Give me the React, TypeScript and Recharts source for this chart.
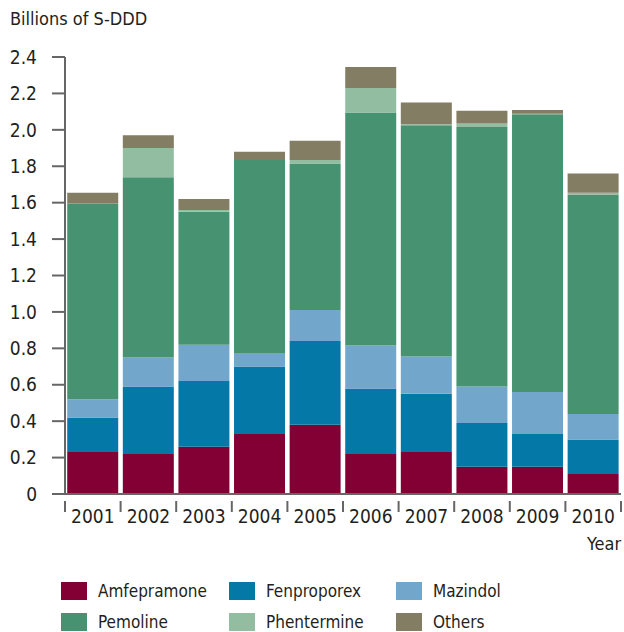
import React from 'react'
import { BarChart, Bar, XAxis, YAxis } from 'recharts'

const years = ['2001', '2002', '2003', '2004', '2005', '2006', '2007', '2008', '2009', '2010']
const amfepramone = [0.23, 0.22, 0.26, 0.33, 0.38, 0.22, 0.23, 0.15, 0.15, 0.11]
const fenproporex = [0.19, 0.37, 0.36, 0.37, 0.46, 0.36, 0.32, 0.24, 0.18, 0.19]
const mazindol = [0.1, 0.16, 0.2, 0.075, 0.17, 0.235, 0.205, 0.2, 0.23, 0.14]
const pemoline = [1.075, 0.99, 0.73, 1.06, 0.805, 1.28, 1.27, 1.425, 1.525, 1.205]
const phentermine = [0, 0.16, 0.01, 0, 0.02, 0.135, 0.005, 0.02, 0.004, 0.01]
const others = [0.06, 0.07, 0.06, 0.045, 0.105, 0.115, 0.12, 0.07, 0.02, 0.105]
const yTicks = [0, 0.2, 0.4, 0.6, 0.8, 1.0, 1.2, 1.4, 1.6, 1.8, 2.0, 2.2, 2.4]

const series = [
  { key: 'amfepramone', name: 'Amfepramone', color: '#830035', values: amfepramone },
  { key: 'fenproporex', name: 'Fenproporex', color: '#0479a8', values: fenproporex },
  { key: 'mazindol', name: 'Mazindol', color: '#72a7cb', values: mazindol },
  { key: 'pemoline', name: 'Pemoline', color: '#479270', values: pemoline },
  { key: 'phentermine', name: 'Phentermine', color: '#92bda0', values: phentermine },
  { key: 'others', name: 'Others', color: '#827d63', values: others },
]

const data = years.map((year, i) => {
  const row: Record<string, any> = { year }
  series.forEach((s) => { row[s.key] = s.values[i] })
  return row
})

const FONT = '"Liberation Sans Narrow", "DejaVu Sans Condensed", "Roboto", sans-serif'
const AXIS = '#666666'
const TEXT = '#231f20'

const YearTick = (props: any) => {
  const { x, y, payload, index } = props
  const half = payload.offset || 27.8
  return (
    <g>
      <line x1={x - half} x2={x - half} y1={y - 1} y2={y + 10} stroke={AXIS} strokeWidth={2} />
      {index === years.length - 1 && (
        <line x1={x + half} x2={x + half} y1={y - 1} y2={y + 10} stroke={AXIS} strokeWidth={2} />
      )}
      <text x={x} y={y + 21} textAnchor="middle" fill={TEXT} fontSize={19} fontFamily={FONT}>
        {payload.value}
      </text>
    </g>
  )
}

const App = () => (
  <div style={{ position: 'absolute', left: 0, top: 0, width: 624, height: 632, background: '#fff', fontFamily: FONT, color: TEXT }}>
    <div style={{ position: 'absolute', left: 10, top: 8, fontSize: 18 }}>Billions of S-DDD</div>
    <BarChart width={624} height={632} data={data} barCategoryGap="4%" margin={{ top: 57, right: 3, left: 0, bottom: 108 }}>
      <XAxis
        dataKey="year"
        height={30}
        axisLine={{ stroke: AXIS, strokeWidth: 2 }}
        tickLine={false}
        tick={<YearTick />}
        interval={0}
      />
      <YAxis
        width={65}
        domain={[0, 2.4]}
        ticks={yTicks}
        interval={0}
        axisLine={{ stroke: AXIS, strokeWidth: 2 }}
        tickLine={{ stroke: AXIS, strokeWidth: 2 }}
        tickSize={13}
        tickMargin={15}
        tickFormatter={(v: number) => (v === 0 ? '0' : v.toFixed(1))}
        tick={{ fill: TEXT, fontSize: 19, fontFamily: FONT }}
      />
      {series.map((s) => (
        <Bar key={s.key} dataKey={s.key} name={s.name} stackId="a" fill={s.color} isAnimationActive={false} />
      ))}
    </BarChart>
    <div style={{ position: 'absolute', left: 587, top: 533, fontSize: 18 }}>Year</div>
    {series.map((s, i) => {
      const col = i % 3
      const row = Math.floor(i / 3)
      const left = [61, 229, 396][col]
      const top = 581 + row * 31
      return (
        <div key={s.key} style={{ position: 'absolute', left, top, display: 'flex', alignItems: 'center', fontSize: 17 }}>
          <div style={{ width: 26, height: 18, background: s.color, marginRight: 11 }} />
          <span>{s.name}</span>
        </div>
      )
    })}
  </div>
)

export default App
